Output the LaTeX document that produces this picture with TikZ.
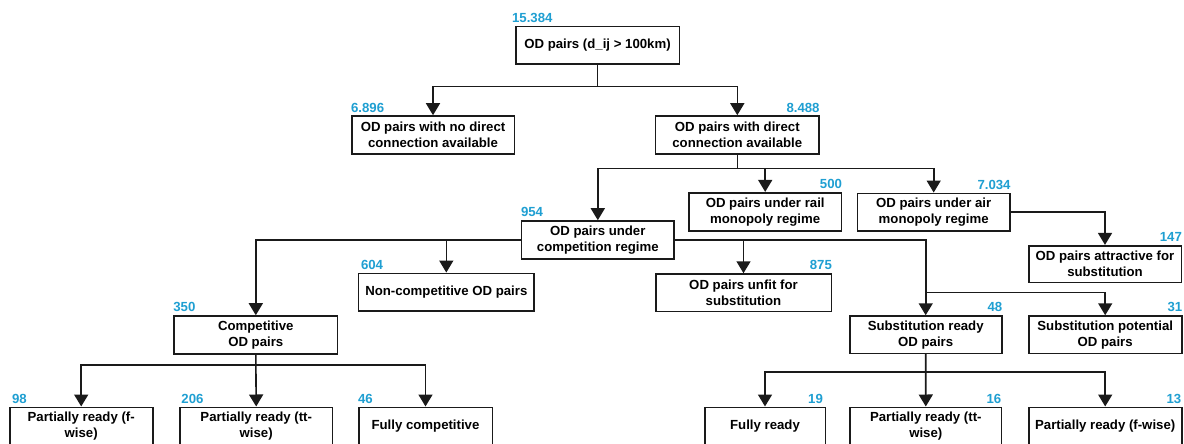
\documentclass[tikz,border=0pt]{standalone}
\usepackage{fontspec}
\setmainfont{Liberation Sans}
\usetikzlibrary{arrows.meta}
\definecolor{countblue}{HTML}{1F9FD2}
\definecolor{ink}{HTML}{1A1A1A}
\tikzset{
  box/.style={draw=ink, line width=1.6pt, fill=white, align=center,
    inner sep=0pt, font=\bfseries\fontsize{13.2}{16}\selectfont, text=black},
  arr/.style={draw=ink, line width=1.6pt, -{Triangle[width=14pt,length=12pt]}},
  link/.style={draw=ink, line width=1.6pt},
  cntl/.style={anchor=base west, text=countblue, inner sep=0pt,
    font=\bfseries\fontsize{13.2}{16}\selectfont},
  cntr/.style={anchor=base east, text=countblue, inner sep=0pt,
    font=\bfseries\fontsize{13.2}{16}\selectfont},
}
\newcommand{\bx}[5]{%
  \node[box, minimum width=#3pt, minimum height=#4pt] (#1) at (#2) {#5};}
\begin{document}
\begin{tikzpicture}[x=1pt,y=-1pt]
\clip (0,0) rectangle (1184,444);
\fill[white] (0,0) rectangle (1184,444);

% boxes
\bx{root}{597.5,45.3}{163.6}{37.3}{OD pairs (d\_ij > 100km)}
\bx{nodirect}{433,135}{162.6}{38}{OD pairs with no direct\\connection available}
\bx{direct}{737.3,135}{163.3}{38}{OD pairs with direct\\connection available}
\bx{comp}{597.8,240}{152.3}{38}{OD pairs under\\competition regime}
\bx{rail}{765.2,211.7}{152.3}{38}{OD pairs under rail\\monopoly regime}
\bx{air}{933.7,212.2}{152.5}{37.7}{OD pairs under air\\monopoly regime}
\bx{attr}{1105,264}{152.6}{36.6}{OD pairs attractive for\\substitution}
\bx{noncomp}{446.3,292.2}{175.3}{37.7}{Non-competitive OD pairs}
\bx{unfit}{743.5,292.7}{175.6}{37.3}{OD pairs unfit for\\substitution}
\bx{competitive}{255.8,335}{163.7}{38}{Competitive\\OD pairs}
\bx{subready}{925.7,334.7}{152}{37.3}{Substitution ready\\OD pairs}
\bx{subpot}{1105.2,334.7}{153}{37.3}{Substitution potential\\OD pairs}
\bx{pf}{81.2,426.3}{143}{38}{Partially ready (f-\\wise)}
\bx{ptt}{256.2,426.3}{152.3}{38}{Partially ready (tt-\\wise)}
\bx{fcomp}{425.5,426.3}{133.6}{38}{Fully competitive}
\bx{fready}{765,426.3}{120.6}{38}{Fully ready}
\bx{ptt2}{925.8,426.3}{151.7}{38}{Partially ready (tt-\\wise)}
\bx{pf2}{1105.2,426.3}{153}{38}{Partially ready (f-wise)}

% counts
\node[cntl] (c1) at ([xshift=-3pt,yshift=3.5pt]root.north west) {15.384};
\node[cntl] (c2) at ([yshift=3pt]nodirect.north west) {6.896};
\node[cntr] (c3) at ([yshift=3pt]direct.north east) {8.488};
\node[cntl] (c4) at ([yshift=4pt]comp.north west) {954};
\node[cntr] (c5) at ([yshift=3.5pt]rail.north east) {500};
\node[cntr] (c6) at ([yshift=3.5pt]air.north east) {7.034};
\node[cntr] (c7) at ([yshift=3.5pt]attr.north east) {147};
\node[cntl] (c8) at ([xshift=3pt,yshift=3.5pt]noncomp.north west) {604};
\node[cntr] (c9) at ([yshift=3.5pt]unfit.north east) {875};
\node[cntl] (c10) at ([yshift=3.5pt]competitive.north west) {350};
\node[cntr] (c11) at ([yshift=3.5pt]subready.north east) {48};
\node[cntr] (c12) at ([yshift=3.5pt]subpot.north east) {31};
\node[cntl] (c13) at ([xshift=3pt,yshift=3.5pt]pf.north west) {98};
\node[cntl] (c14) at ([xshift=2pt,yshift=3.5pt]ptt.north west) {206};
\node[cntl] (c15) at ([yshift=3.5pt]fcomp.north west) {46};
\node[cntr] (c16) at ([xshift=-3pt,yshift=3.5pt]fready.north east) {19};
\node[cntr] (c17) at ([xshift=-1pt,yshift=3.5pt]ptt2.north east) {16};
\node[cntr] (c18) at ([xshift=-1pt,yshift=3.5pt]pf2.north east) {13};

% junctions
\coordinate (j1) at (597.5,86.7);
\coordinate (j2) at (737.3,168.3);
\coordinate (j3) at (925.7,292.3);
\coordinate (j4) at (255.8,365);
\coordinate (j5) at (925.7,371.7);

% connectors
\draw[link] (root.south) -- (j1);
\draw[arr] (j1) -| (nodirect.north);
\draw[arr] (j1) -| (direct.north);

\draw[link] (direct.south) -- (j2);
\draw[arr] (j2) -| (comp.north);
\draw[arr] (j2) -| (rail.north);
\draw[arr] (j2) -| (air.north);

\draw[arr] (air.east) -| (attr.north);

\draw[arr] (comp.west) -| (competitive.north);
\draw[arr] (comp.west -| noncomp.north) -- (noncomp.north);
\draw[arr] (comp.east) -| (subready.north);
\draw[arr] (comp.east -| unfit.north) -- (unfit.north);
\draw[arr] (j3) -| (subpot.north);

\draw[arr] (competitive.south) -- (ptt.north);
\draw[arr] (j4) -| (pf.north);
\draw[arr] (j4) -| (fcomp.north);

\draw[arr] (subready.south) -- (ptt2.north);
\draw[arr] (j5) -| (fready.north);
\draw[arr] (j5) -| (pf2.north);
\end{tikzpicture}
\end{document}
